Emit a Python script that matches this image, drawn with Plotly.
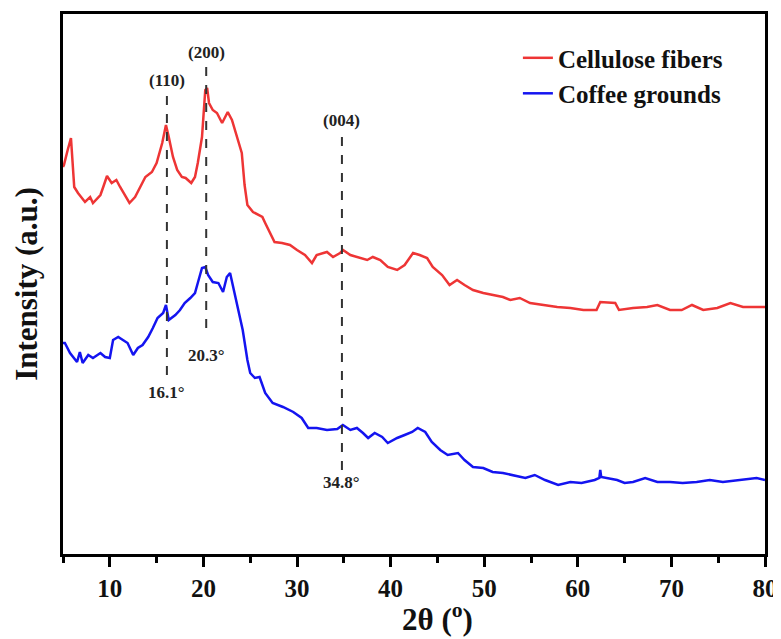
import plotly.graph_objects as go

# ---- data (2θ in degrees, intensity in a.u.) ----
cell_x = [5.0, 5.1, 5.5, 5.85, 6.2, 6.6, 7.35, 7.9, 8.2, 9.0, 9.3, 9.7, 10.2, 10.7, 11.1, 11.6, 12.1, 12.7,
          13.2, 13.8, 14.5, 15.0, 15.6, 16.0, 16.3, 16.75, 17.2, 17.7, 18.1, 18.7, 19.1, 19.4, 19.85, 20.2,
          20.4, 20.6, 21.0, 21.45, 22.0, 22.3, 22.6, 23.05, 23.6, 24.1, 24.4, 24.7, 25.3, 26.3, 26.6, 27.1,
          27.6, 28.4, 29.25, 30.0, 30.85, 31.6, 32.1, 33.2, 33.85, 34.6, 34.9, 35.7, 36.7, 37.5, 38.1, 38.9,
          39.7, 40.7, 41.5, 42.4, 43.1, 43.9, 44.5, 45.5, 46.3, 47.1, 47.9, 48.8, 49.9, 50.9, 52.0, 52.8,
          53.8, 54.9, 56.3, 57.8, 59.2, 60.6, 62.0, 62.4, 64.0, 64.4, 65.9, 67.4, 68.5, 69.85, 71.1, 72.2,
          73.4, 74.9, 76.3, 77.65, 78.7, 80.0]
cell_y = [387, 389, 404, 416, 367, 361, 352, 357, 351, 359, 367, 378, 371, 374, 367, 359, 351, 357,
          366, 377, 382, 391, 411, 429, 417, 397, 384, 377, 376, 371, 377, 391, 417, 464,
          466, 451, 444, 441, 431, 437, 442, 434, 417, 401, 369, 349, 342, 337, 331, 321,
          312, 311, 309, 304, 299, 291, 299, 302, 297, 301, 304, 299, 296, 294, 297, 294,
          287, 284, 289, 301, 299, 296, 287, 279, 269, 274, 269, 264, 261, 259, 257, 254,
          256, 251, 249, 247, 246, 244, 244, 252, 251, 244, 246, 247, 249, 244, 244, 249,
          244, 246, 251, 247, 247, 247]

coffee_x = [5.0, 5.2, 5.75, 6.5, 6.8, 7.1, 7.7, 8.2, 9.0, 9.5, 10.0, 10.35, 10.9, 11.4, 11.9, 12.5, 13.0,
            13.5, 14.1, 14.6, 15.1, 15.7, 16.0, 16.3, 17.0, 17.5, 18.0, 18.6, 19.1, 19.4, 19.85, 20.2, 20.5,
            21.0, 21.6, 22.1, 22.5, 22.85, 23.2, 23.7, 24.2, 24.7, 25.0, 25.5, 26.0, 26.6, 27.4, 28.5, 29.6,
            30.5, 31.2, 32.1, 33.2, 34.3, 34.9, 35.7, 36.4, 37.05, 37.6, 38.3, 39.1, 39.7, 40.7, 41.5, 42.3,
            42.9, 43.7, 44.4, 45.3, 46.1, 47.2, 47.9, 48.8, 49.9, 50.9, 52.0, 53.1, 54.4, 55.4, 56.5, 57.9,
            59.2, 60.4, 61.8, 62.3, 62.4, 62.5, 63.1, 64.2, 65.0, 65.9, 67.2, 68.5, 69.85, 71.2, 72.7, 74.1,
            75.5, 77.3, 79.1, 80.0]
coffee_y = [211, 211, 201, 192, 202, 191, 199, 196, 201, 197, 196, 214, 217, 214, 211, 199, 206,
            209, 217, 226, 236, 241, 249, 234, 239, 244, 251, 256, 261, 271, 286, 287, 279,
            272, 271, 262, 277, 281, 267, 247, 224, 194, 181, 176, 177, 161, 151, 147, 142,
            136, 126, 126, 124, 125, 129, 124, 126, 121, 116, 121, 117, 111, 116, 119, 122,
            126, 122, 112, 104, 99, 101, 94, 87, 86, 82, 81, 79, 76, 79, 74, 69,
            72, 71, 74, 76, 84, 77, 76, 74, 71, 72, 76, 72, 72, 71, 72, 74,
            72, 74, 76, 74]

peak_pos = [16.1, 20.3, 34.8]
peak_hkl = ["(110)", "(200)", "(004)"]
peak_angle = ["16.1°", "20.3°", "34.8°"]
dash_top = [462, 489, 422]
dash_bottom = [179, 226, 84]
hkl_y = [474, 502, 434]
angle_y = [162, 199, 72]

x_title = "2θ (<sup>o</sup>)"
y_title = "Intensity (a.u.)"

FONT = "Liberation Serif"

fig = go.Figure()
fig.add_trace(go.Scatter(x=cell_x, y=cell_y, mode="lines", name="Cellulose fibers",
                         line=dict(color="#ee3535", width=2.5)))
fig.add_trace(go.Scatter(x=coffee_x, y=coffee_y, mode="lines", name="Coffee grounds",
                         line=dict(color="#1414f0", width=2.5)))

for xp, hkl, ang, yt, yb, hy, ay in zip(peak_pos, peak_hkl, peak_angle, dash_top, dash_bottom, hkl_y, angle_y):
    fig.add_shape(type="line", x0=xp, x1=xp, y0=yb, y1=yt, xref="x", yref="y",
                  line=dict(color="#333333", width=2, dash="dash"))
    fig.add_annotation(x=xp, y=hy, text=hkl, showarrow=False, xref="x", yref="y",
                       font=dict(family=FONT, size=17, color="#222222", weight="bold"))
    fig.add_annotation(x=xp, y=ay, text=ang, showarrow=False, xref="x", yref="y",
                       font=dict(family=FONT, size=17, color="#222222", weight="bold"))

# x-axis title (placed slightly right of centre, as in the reference)
fig.add_annotation(x=0.534, y=-0.118, xref="paper", yref="paper", text=x_title, showarrow=False,
                   xanchor="center", yanchor="middle",
                   font=dict(family=FONT, size=31, color="#111111", weight="bold"))

fig.update_layout(
    width=781, height=639,
    margin=dict(l=55, r=24, t=6, b=93, autoexpand=False),
    paper_bgcolor="white", plot_bgcolor="white",
    font=dict(family=FONT, size=25, color="#111111", weight="bold"),
    showlegend=True,
    legend=dict(x=0.648, y=0.961, xanchor="left", yanchor="top", bgcolor="rgba(0,0,0,0)",
                font=dict(family=FONT, size=25, color="#111111", weight="bold"),
                tracegroupgap=0, itemwidth=30),
    xaxis=dict(range=[5, 80], dtick=10, tick0=0, showgrid=False, zeroline=False,
               ticks="outside", ticklen=10, tickwidth=2.5, tickcolor="black",
               showline=True, linewidth=2.5, linecolor="black", mirror=True,
               minor=dict(dtick=5, ticks="outside", ticklen=6, tickwidth=2.5, tickcolor="black"),
               tickfont=dict(family=FONT, size=25, weight="bold")),
    yaxis=dict(range=[0, 540], showgrid=False, zeroline=False, showticklabels=False, ticks="",
               showline=True, linewidth=2.5, linecolor="black", mirror=True,
               title=dict(text=y_title, standoff=14,
                          font=dict(family=FONT, size=31, weight="bold"))),
)

fig.write_html("out.html")
